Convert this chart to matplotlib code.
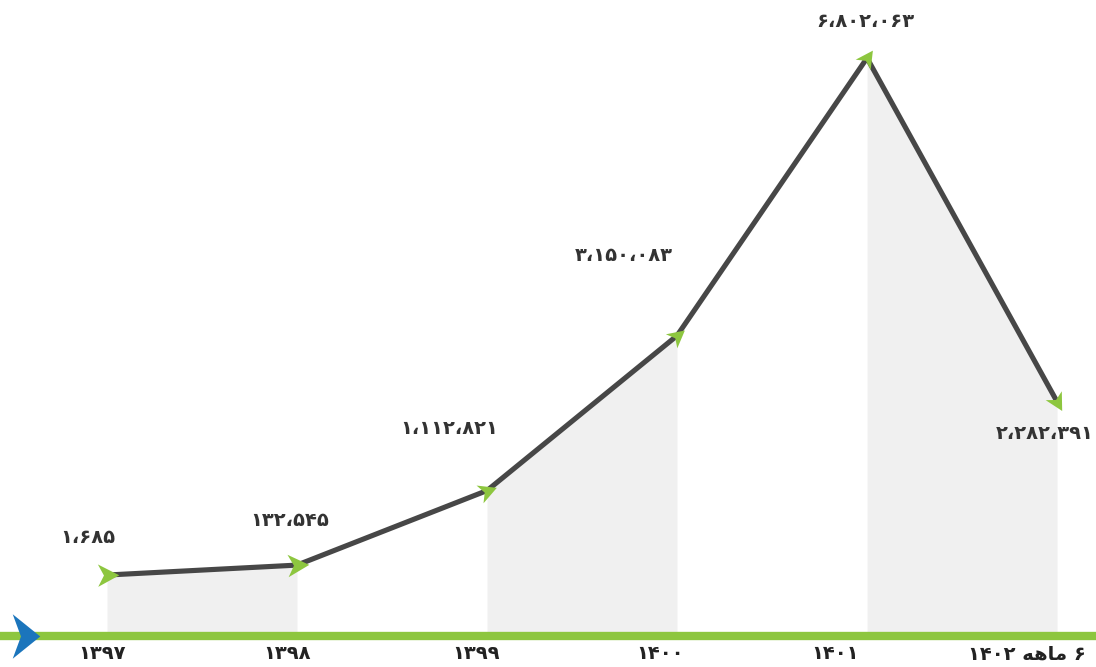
import numpy as np
import matplotlib
matplotlib.use("Agg")
import matplotlib.pyplot as plt
import matplotlib.transforms as mtransforms
from matplotlib.path import Path

# data
years = ["۱۳۹۷", "۱۳۹۸", "۱۳۹۹", "۱۴۰۰", "۱۴۰۱",
         "۱۴۰۲ " + "\uFEEA\uFEEB\uFE8E\uFEE3" + " ۶"]  # "6 ماهه 1402" pre-shaped, visual order
values = [1685, 132545, 1112821, 3150083, 6802063, 2282391]
value_labels = ["۱،۶۸۵", "۱۳۲،۵۴۵", "۱،۱۱۲،۸۲۱", "۳،۱۵۰،۰۸۳", "۶،۸۰۲،۰۶۳", "۲،۲۸۲،۳۹۱"]

# layout tweaks (points / pixels)
label_offsets = [(-14, 27), (-5, 32), (-27, 45), (-38, 58), (-1, 26), (-9, -23)]
tick_shift_px = [-5, -10, -11, -17, -32, -30]

line_col = "#474747"
green = "#8dc63f"
blue = "#1b75bc"
shade = "#f0f0f0"

plt.rcParams['font.family'] = ['DejaVu Sans']

fig = plt.figure(figsize=(10.96, 6.67), dpi=100)
ax = fig.add_axes([0, 31 / 667, 1, 636 / 667])
x = np.arange(len(values))
ax.set_xlim(-0.563, 5.205)
ax.set_ylim(-800000, 7565000)
for s in ax.spines.values():
    s.set_visible(False)
ax.set_yticks([])

# shaded bands under alternate segments
for i in (0, 2, 4):
    ax.fill_between(x[i:i + 2], values[i:i + 2], -800000, color=shade, lw=0, zorder=1)

ax.plot(x, values, color=line_col, lw=3.7, zorder=3, solid_capstyle="round")

# arrow markers pointing along the line
fig.canvas.draw()
pts = ax.transData.transform(np.column_stack([x, values]))
head = np.array([[1, 0], [-0.8, 0.95], [-0.3, 0], [-0.8, -0.95], [1, 0]])
codes = [Path.MOVETO, Path.LINETO, Path.LINETO, Path.LINETO, Path.CLOSEPOLY]
for i in range(len(values)):
    if i == 0:
        d = pts[1] - pts[0]
    else:
        d = pts[i] - pts[i - 1]
    a = np.arctan2(d[1], d[0])
    if i == 0:
        a = a * 0.3
    R = np.array([[np.cos(a), -np.sin(a)], [np.sin(a), np.cos(a)]])
    v = head @ R.T
    ax.plot(x[i], values[i], marker=Path(v, codes), ms=17, color=green,
            mec="none", zorder=4, linestyle="none")

for i in range(len(values)):
    ax.annotate(value_labels[i], (x[i], values[i]), xytext=label_offsets[i],
                textcoords="offset points", ha="center", va="center",
                fontsize=14, fontweight="bold", color="#333333", zorder=5)

# x axis: green bar with blue arrowhead
ax.axhline(-800000, color=green, lw=6, zorder=2, clip_on=False)
chev = Path([[0.62, 0], [-0.62, 1], [-0.25, 0], [-0.62, -1], [0.62, 0]], codes)
ax.plot([26 / 1096], [0], transform=ax.transAxes, marker=chev, ms=32,
        color=blue, mec="none", clip_on=False, zorder=6)

ax.set_xticks(x)
ax.set_xticklabels(years, fontsize=14, fontweight="bold", color="#222222")
ax.tick_params(axis="x", length=0, pad=6)
for lab, dx in zip(ax.get_xticklabels(), tick_shift_px):
    lab.set_transform(lab.get_transform() +
                      mtransforms.ScaledTranslation(dx / 100, 0, fig.dpi_scale_trans))

fig.savefig("out.png", dpi=100)
